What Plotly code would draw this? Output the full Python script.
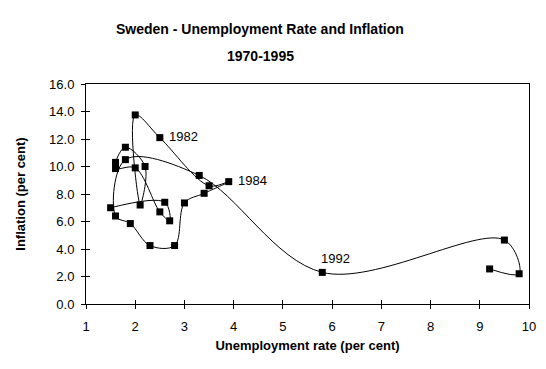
import plotly.graph_objects as go

years = list(range(1970, 1996))
unemployment = [1.5, 2.6, 2.7, 2.5, 2.0, 1.6, 1.6, 1.8, 2.2, 2.1,
                2.0, 2.5, 3.5, 3.9, 3.4, 3.0, 2.8, 2.3, 1.9, 1.6,
                1.8, 3.3, 5.8, 9.5, 9.8, 9.2]
inflation = [7.0, 7.4, 6.05, 6.7, 9.9, 9.85, 10.3, 11.4, 10.0, 7.2,
             13.75, 12.1, 8.6, 8.9, 8.05, 7.35, 4.25, 4.25, 5.85, 6.4,
             10.5, 9.35, 2.3, 4.65, 2.2, 2.55]
label_points = {"1982": 11, "1984": 13, "1992": 22}

x_ticks = list(range(1, 11))
y_ticks = [0, 2, 4, 6, 8, 10, 12, 14, 16]

font = "Liberation Sans, Arial, sans-serif"

fig = go.Figure()
fig.add_trace(go.Scatter(
    x=unemployment, y=inflation, mode="lines+markers",
    line=dict(color="black", width=1, shape="spline", smoothing=1.0),
    marker=dict(symbol="square", size=7, color="black"),
    hoverinfo="x+y", showlegend=False))
fig.add_trace(go.Scatter(x=unemployment, y=inflation, mode="none",
                         xaxis="x2", yaxis="y2", showlegend=False,
                         hoverinfo="skip"))

annotations = []
for text, i in label_points.items():
    if text == "1992":
        annotations.append(dict(x=unemployment[i], y=inflation[i], text=text,
                                showarrow=False, xanchor="left", yanchor="bottom",
                                xshift=-3, yshift=4,
                                font=dict(family=font, size=13, color="black")))
    else:
        annotations.append(dict(x=unemployment[i], y=inflation[i], text=text,
                                showarrow=False, xanchor="left", yanchor="middle",
                                xshift=7, yshift=1,
                                font=dict(family=font, size=13, color="black")))

title_lines = ["Sweden - Unemployment Rate and Inflation", "1970-1995"]
title_y = [21, 48]
for t, ty in zip(title_lines, title_y):
    annotations.append(dict(xref="paper", yref="paper", x=(252 - 78) / (521 - 78),
                            y=1 + (76 - ty) / 220,
                            text=f"<b>{t}</b>", showarrow=False,
                            xanchor="center", yanchor="middle",
                            font=dict(family=font, size=14, color="black")))

fig.update_layout(
    width=546, height=369,
    margin=dict(l=78, r=25, t=76, b=73),
    paper_bgcolor="white", plot_bgcolor="white",
    font=dict(family=font, size=13, color="black"),
    xaxis=dict(range=[1, 10], tickvals=x_ticks, ticktext=[str(v) for v in x_ticks],
               showline=True, linecolor="black", linewidth=1, mirror=True,
               ticks="outside", ticklen=4, tickcolor="black", showgrid=False,
               zeroline=False, ticklabelstandoff=6,
               title=dict(text="<b>Unemployment rate (per cent)</b>", standoff=8,
                          font=dict(family=font, size=13))),
    yaxis=dict(range=[0, 16], tickvals=y_ticks, ticktext=[f"{v:.1f}" for v in y_ticks],
               showline=True, linecolor="black", linewidth=1, mirror=True,
               ticks="outside", ticklen=4, tickcolor="black", showgrid=False,
               zeroline=False, ticklabelstandoff=4,
               title=dict(text="<b>Inflation (per cent)</b>", standoff=20,
                          font=dict(family=font, size=13))),
    xaxis2=dict(overlaying="x", matches="x", range=[1, 10], tickvals=x_ticks,
                ticks="inside", ticklen=4, tickcolor="black", showticklabels=False,
                showline=False, showgrid=False, zeroline=False),
    yaxis2=dict(overlaying="y", matches="y", range=[0, 16], tickvals=y_ticks,
                ticks="inside", ticklen=4, tickcolor="black", showticklabels=False,
                showline=False, showgrid=False, zeroline=False),
    annotations=annotations,
)

fig.write_html("out.html")
